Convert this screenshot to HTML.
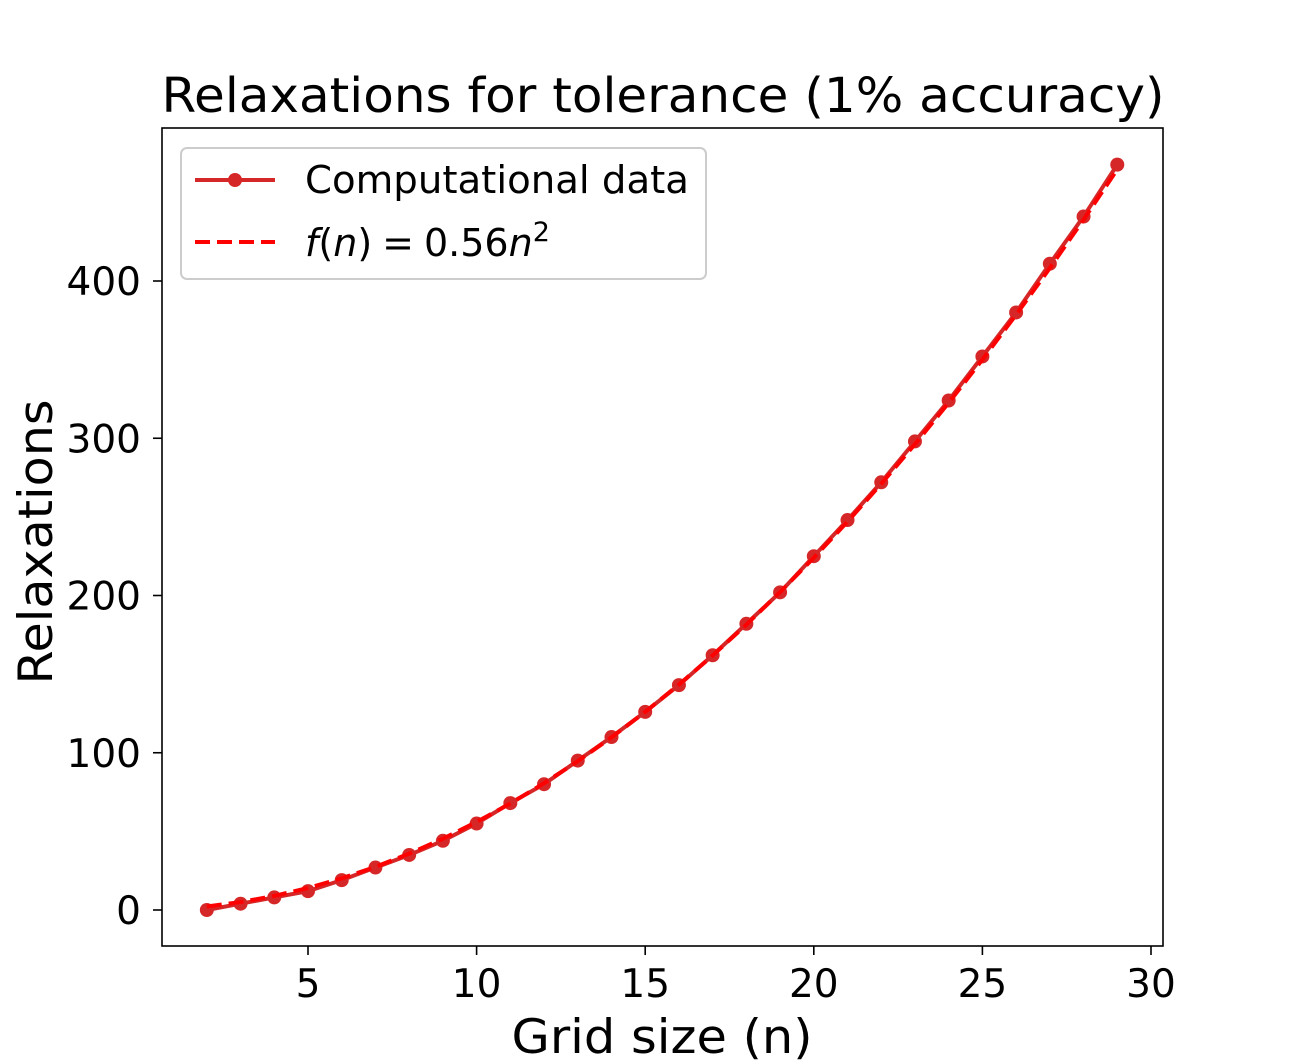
<!DOCTYPE html>
<html><head><meta charset="utf-8"><style>
body{margin:0;background:#fff;}
svg{display:block;font-family:"DejaVu Sans","Liberation Sans",sans-serif;}
</style></head><body>
<svg id="chart" width="1292" height="1064">
<text x="663" y="112" font-size="48" text-anchor="middle" textLength="1003" lengthAdjust="spacingAndGlyphs">Relaxations for tolerance (1% accuracy)</text>
<g id="ticks"></g>
<g id="series"></g>
<rect x="162" y="128" width="1001" height="818" fill="none" stroke="#000" stroke-width="1.6"/>
<text x="662" y="1053" font-size="47" text-anchor="middle" textLength="301" lengthAdjust="spacingAndGlyphs">Grid size (n)</text>
<text transform="translate(52,542) rotate(-90)" font-size="47" text-anchor="middle" textLength="285" lengthAdjust="spacingAndGlyphs">Relaxations</text>
<g>
<rect x="181" y="148" width="525" height="131" rx="6" fill="#fff" fill-opacity="0.8" stroke="#ccc" stroke-width="2"/>
<line x1="195" y1="180" x2="275" y2="180" stroke="#d62728" stroke-width="4"/>
<circle cx="235" cy="180" r="7" fill="#d62728"/>
<text x="305" y="193" font-size="38" textLength="384" lengthAdjust="spacingAndGlyphs">Computational data</text>
<line x1="195" y1="242" x2="275" y2="242" stroke="#ff0000" stroke-width="4" stroke-dasharray="15,7"/>
<text x="305" y="256" font-size="38"><tspan font-style="italic">f</tspan>(<tspan font-style="italic">n</tspan>)<tspan dx="10">=</tspan><tspan dx="10">0.56</tspan><tspan font-style="italic">n</tspan><tspan dy="-15" font-size="27">2</tspan></text>
</g>
</svg>
<script>
const gridSizes=[2,3,4,5,6,7,8,9,10,11,12,13,14,15,16,17,18,19,20,21,22,23,24,25,26,27,28,29];
const relaxations=[0,4,8,12,19,27,35,44,55,68,80,95,110,126,143,162,182,202,225,248,272,298,324,352,380,411,441,474];
const fitCoef=0.56;
const xTicks=[5,10,15,20,25,30];
const yTicks=[0,100,200,300,400];
const X=v=>308+(v-5)*33.72;
const Y=v=>910-v*1.5725;
const NS="http://www.w3.org/2000/svg";
const tg=document.getElementById('ticks'),sg=document.getElementById('series');
function mk(p,tag,a){const e=document.createElementNS(NS,tag);for(const k in a)e.setAttribute(k,a[k]);p.appendChild(e);return e;}
xTicks.forEach(t=>{
 const l=mk(tg,'line',{x1:X(t),x2:X(t),y1:946,y2:955,stroke:'#000','stroke-width':1.6});
 
 
 const s=mk(tg,'text',{x:X(t),y:997,'font-size':39,'text-anchor':'middle'});s.textContent=t;
 
 
});
yTicks.forEach(t=>{
 const l=mk(tg,'line',{x1:153,x2:162,y1:Y(t),y2:Y(t),stroke:'#000','stroke-width':1.6});
 
 
 const s=mk(tg,'text',{x:141,y:Y(t)+14,'font-size':39,'text-anchor':'end'});s.textContent=t;
 
 
});
const dl=mk(sg,'polyline',{points:gridSizes.map((n,i)=>X(n)+','+Y(relaxations[i])).join(' '),fill:'none',stroke:'#d62728','stroke-width':4});


gridSizes.forEach((n,i)=>{
 const c=mk(sg,'circle',{cx:X(n),cy:Y(relaxations[i]),r:7,fill:'#d62728'});
 
 
});
const fl=mk(sg,'polyline',{points:gridSizes.map(n=>X(n)+','+Y(fitCoef*n*n)).join(' '),fill:'none',stroke:'#ff0000','stroke-width':4,'stroke-dasharray':'15,7'});


</script>
</body></html>
